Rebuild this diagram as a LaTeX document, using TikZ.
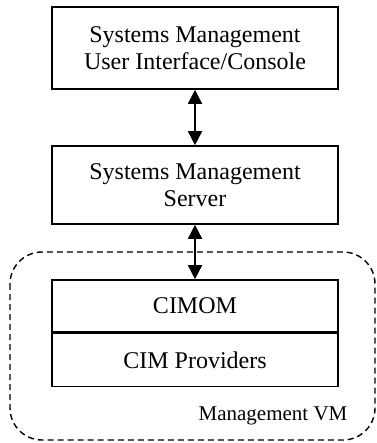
\documentclass[tikz,border=0pt]{standalone}
\usepackage{fontspec}
\setmainfont{Liberation Serif}
\usetikzlibrary{arrows.meta}
\begin{document}
\begin{tikzpicture}[x=1pt,y=-1pt,
  box/.style={draw,line width=1.6pt,minimum width=286pt,inner sep=0pt,align=center,font=\fontsize{24}{27}\selectfont},
  link/.style={line width=1.6pt,{Triangle[length=14pt,width=14pt]}-{Triangle[length=14pt,width=14pt]}},
  vm/.style={draw,dashed,line width=1.4pt,dash pattern=on 6pt off 4pt,rounded corners=32pt}]
\useasboundingbox (0,0) rectangle (376,443);
\node[box,minimum height=82pt] (ui) at (195,48) {Systems Management\\User Interface/Console};
\node[box,minimum height=78pt] (srv) at (195,185) {Systems Management\\Server};
\node[box,minimum height=52pt] (cimom) at (195,306) {CIMOM};
\node[box,minimum height=53pt,anchor=north] (prov) at (cimom.south) {CIM Providers};
\draw[vm] (10,252) rectangle (375,440);
\node[font=\fontsize{21}{24}\selectfont] (lbl) at (273,416) {Management VM};
\draw[link] (ui.south) -- (srv.north);
\draw[link] (srv.south) -- (cimom.north);
\end{tikzpicture}
\end{document}
